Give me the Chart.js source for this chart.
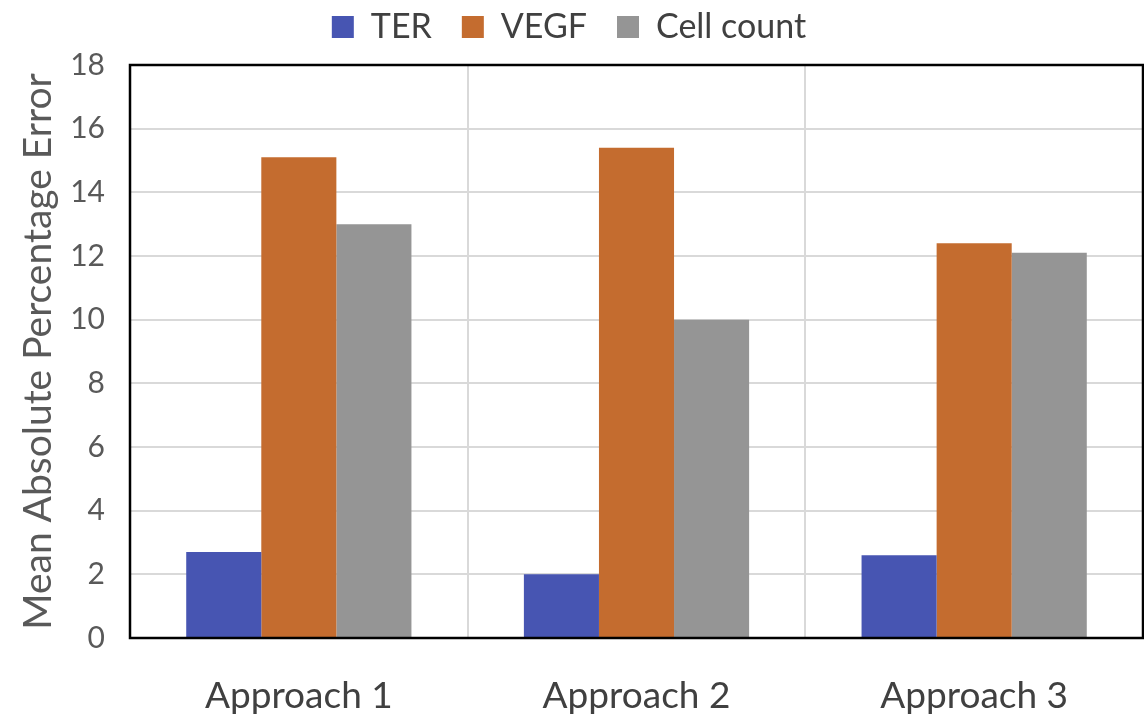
<!DOCTYPE html>
<html>
<head>
<meta charset="utf-8">
<script src="https://cdn.jsdelivr.net/npm/chart.js@4"></script>
<style>
  html, body { margin: 0; padding: 0; background: #ffffff; }
  #wrap { width: 1144px; height: 722px; position: relative; }
</style>
</head>
<body>
<div id="wrap"><canvas id="c" width="1144" height="722"></canvas></div>
<script>
const categories = ["Approach 1", "Approach 2", "Approach 3"];
const seriesNames = ["TER", "VEGF", "Cell count"];
const terValues = [2.7, 2.0, 2.6];
const vegfValues = [15.1, 15.4, 12.4];
const cellCountValues = [13.0, 10.0, 12.1];
const yTicks = [0, 2, 4, 6, 8, 10, 12, 14, 16, 18];
const yTitle = "Mean Absolute Percentage Error";

const colors = ["#4755B2", "#C46C2F", "#959595"];
const FONT = "Lato, 'Open Sans', sans-serif";

const PLOT_TOP = 65;
const LEGEND_SHIFT_Y = 20;
const LEGEND_SHIFT_X = 10;

const legendTweak = {
  id: "legendTweak",
  beforeInit(chart) {
    const lg = chart.legend;
    if (!lg) return;
    const origFit = lg.fit.bind(lg);
    lg.fit = function () {
      origFit();
      this.height = PLOT_TOP;
    };
  },
  afterLayout(chart) {
    const lg = chart.legend;
    if (!lg) return;
    lg.top -= LEGEND_SHIFT_Y;
    lg.bottom -= LEGEND_SHIFT_Y;
    lg.left -= LEGEND_SHIFT_X;
    lg.right -= LEGEND_SHIFT_X;
  }
};

const frame = {
  id: "frame",
  afterDraw(chart) {
    const a = chart.chartArea, ctx = chart.ctx;
    ctx.save();
    ctx.strokeStyle = "#000000";
    ctx.lineWidth = 2.5;
    ctx.strokeRect(a.left, a.top, a.right - a.left, a.bottom - a.top);
    ctx.restore();
  }
};

new Chart(document.getElementById("c"), {
  type: "bar",
  data: {
    labels: categories,
    datasets: [
      { label: seriesNames[0], data: terValues, backgroundColor: colors[0] },
      { label: seriesNames[1], data: vegfValues, backgroundColor: colors[1] },
      { label: seriesNames[2], data: cellCountValues, backgroundColor: colors[2] }
    ]
  },
  options: {
    responsive: false,
    animation: false,
    devicePixelRatio: 1,
    layout: { padding: { left: 15, right: 1, top: 0, bottom: 0 } },
    datasets: { bar: { barPercentage: 1.0, categoryPercentage: 0.667, borderWidth: 0 } },
    plugins: {
      legend: {
        position: "top",
        labels: {
          boxWidth: 22, boxHeight: 22, padding: 30,
          color: "#404040",
          font: { family: FONT, size: 34 }
        }
      },
      tooltip: { enabled: false }
    },
    scales: {
      x: {
        offset: true,
        grid: { offset: true, color: "#d9d9d9", lineWidth: 2, drawTicks: false },
        border: { display: false },
        ticks: { color: "#404040", font: { family: FONT, size: 37 }, padding: 36 },
        afterFit(s) { s.height = 722 - 638; }
      },
      y: {
        min: 0, max: 18,
        afterBuildTicks(s) { s.ticks = yTicks.map(v => ({ value: v })); },
        grid: { color: "#d9d9d9", lineWidth: 2, drawTicks: false },
        border: { display: false },
        ticks: { color: "#595959", font: { family: FONT, size: 30 }, padding: 25 },
        title: { display: true, text: yTitle, color: "#595959", font: { family: FONT, size: 39 }, padding: { top: 0, bottom: 0 } },
        afterFit(s) { s.width = 130 - 15; }
      }
    }
  },
  plugins: [legendTweak, frame]
});
</script>
</body>
</html>
